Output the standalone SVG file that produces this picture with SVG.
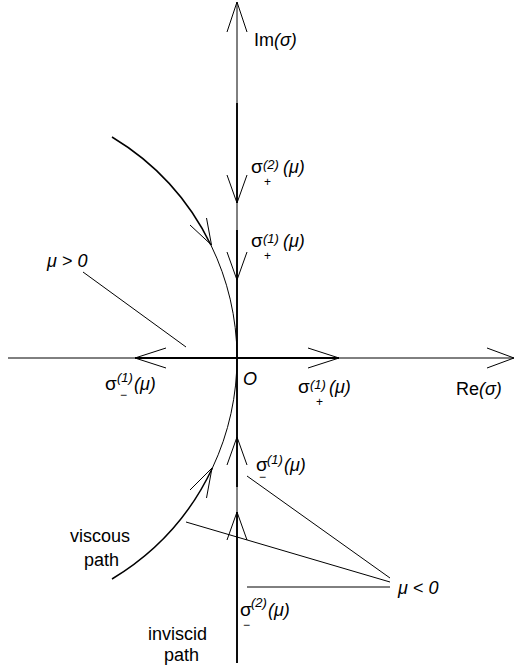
<svg xmlns="http://www.w3.org/2000/svg" width="515" height="669" viewBox="0 0 515 669">
<style>
.ln{stroke:#000;stroke-width:1;fill:none}
.tk{stroke:#000;stroke-width:1.8;fill:none}
.ah{stroke:#000;stroke-width:1;fill:none;stroke-linejoin:miter}
text{font-family:"Liberation Sans",Arial,sans-serif;font-size:18px;fill:#000}
.it{font-style:italic}
.sg{font-size:19px}
.sup{font-size:13px;font-style:italic}
.sub{font-size:12px}
</style>
<rect width="515" height="669" fill="#fff"/>
<g id="connectors">
  <line class="ln" x1="237" y1="2" x2="237" y2="663"/>
  <line class="ln" x1="8" y1="358" x2="514" y2="358"/>
  <line class="tk" x1="237" y1="103" x2="237" y2="203"/>
  <line class="tk" x1="237" y1="230" x2="237" y2="487"/>
  <line class="tk" x1="237" y1="512" x2="237" y2="663"/>
  <line class="tk" x1="135" y1="358" x2="339" y2="358"/>
  <polyline class="ah" points="227,32 237,2 247,32"/>
  <polyline class="ah" points="487,348 514,358 487,368"/>
  <polyline class="ah" points="227,175 237,203 247,175"/>
  <polyline class="ah" points="227,252 237,280 247,252"/>
  <polyline class="ah" points="227,465 237,437 247,465"/>
  <polyline class="ah" points="227,540 237,512 247,540"/>
  <polyline class="ah" points="166,348 135,358 166,368"/>
  <polyline class="ah" points="308,348 339,358 308,368"/>
  <path class="tk" d="M112,137 A258,258 0 0 1 210.9,245" style="stroke-width:1.5"/>
  <path class="ln" d="M210.9,245 A258,258 0 0 1 212.4,468"/>
  <path class="tk" d="M212.4,468 A258,258 0 0 1 112,579" style="stroke-width:1.5"/>
  <polyline class="ah" points="190,225 211.5,245 206.5,218"/>
  <polyline class="ah" points="190,490 212,468 206.5,498"/>
  <line class="ln" x1="83" y1="272" x2="186" y2="347"/>
  <line class="ln" x1="247" y1="476" x2="390" y2="578"/>
  <line class="ln" x1="186" y1="522" x2="390" y2="582"/>
  <line class="ln" x1="247" y1="587" x2="390" y2="587"/>
</g>
<g id="im-label"><text x="254" y="46">Im<tspan class="it">(σ)</tspan></text></g>
<g id="re-label"><text x="456" y="395">Re<tspan class="it">(σ)</tspan></text></g>
<g id="origin"><text class="it" x="243" y="385">O</text></g>
<g id="mu-pos"><text class="it" x="47" y="267">μ &gt; 0</text></g>
<g id="mu-neg"><text class="it" x="398" y="594">μ &lt; 0</text></g>
<g id="sigma-plus-2">
  <text class="sg" x="251" y="173">σ</text>
  <text class="sup" x="263" y="169">(2)</text>
  <text class="sub" x="264" y="186">+</text>
  <text class="it" x="283" y="173">(μ)</text>
</g>
<g id="sigma-plus-1-im">
  <text class="sg" x="251" y="247">σ</text>
  <text class="sup" x="263" y="243">(1)</text>
  <text class="sub" x="264" y="260">+</text>
  <text class="it" x="283" y="247">(μ)</text>
</g>
<g id="sigma-minus-1-im">
  <text class="sg" x="256" y="471">σ</text>
  <text class="sup" x="267" y="464">(1)</text>
  <text class="sub" x="259" y="481">−</text>
  <text class="it" x="284" y="471">(μ)</text>
</g>
<g id="sigma-minus-2">
  <text class="sg" x="240" y="616">σ</text>
  <text class="sup" x="251" y="607">(2)</text>
  <text class="sub" x="243" y="629">−</text>
  <text class="it" x="268" y="616">(μ)</text>
</g>
<g id="sigma-minus-1-re">
  <text class="sg" x="105" y="390">σ</text>
  <text class="sup" x="117" y="382">(1)</text>
  <text class="sub" x="120" y="399">−</text>
  <text class="it" x="134" y="390">(μ)</text>
</g>
<g id="sigma-plus-1-re">
  <text class="sg" x="298" y="393">σ</text>
  <text class="sup" x="310" y="389">(1)</text>
  <text class="sub" x="316" y="406">+</text>
  <text class="it" x="329" y="393">(μ)</text>
</g>
<g id="viscous-label">
  <text x="70" y="542">viscous</text>
  <text x="84" y="566">path</text>
</g>
<g id="inviscid-label">
  <text x="148" y="640">inviscid</text>
  <text x="164" y="661">path</text>
</g>
</svg>
